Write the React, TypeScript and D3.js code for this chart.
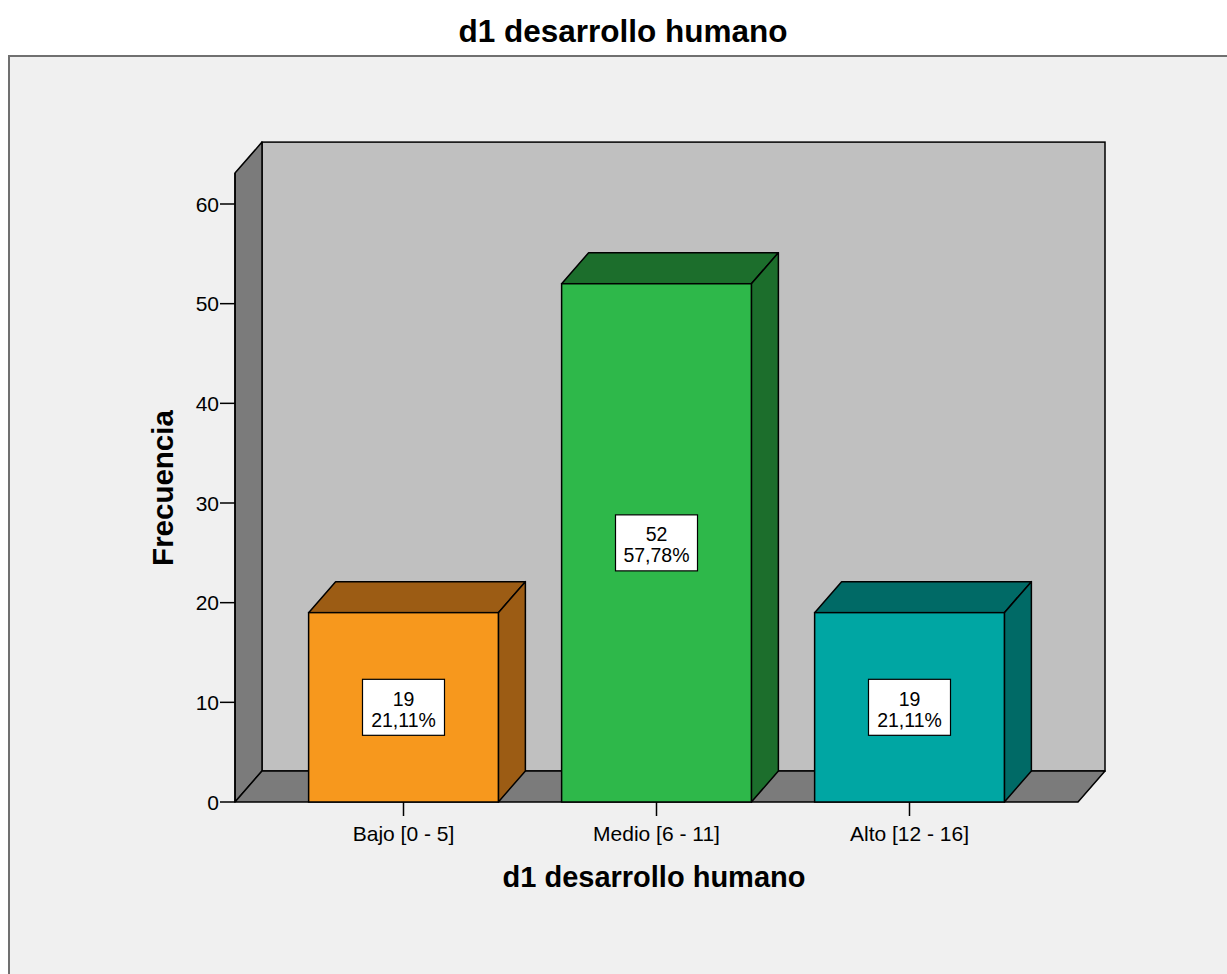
import React from "react";
import * as d3 from "d3";

const categories = ["Bajo [0 - 5]", "Medio [6 - 11]", "Alto [12 - 16]"];
const counts = [19, 52, 19];
const percents = ["21,11%", "57,78%", "21,11%"];
const yTicks = [0, 10, 20, 30, 40, 50, 60];
const frontColors = ["#f7981d", "#2eb84a", "#00a6a3"];
const darkColors = ["#9c5c14", "#1c6e2c", "#006a66"];

const W = 1227;
const H = 974;
const DX = 27;
const DY = -31;
const X0 = 235;
const X1 = 1078;
const Y0 = 802;
const WALL_MAX = 63.1;

export default function App() {
  const y = d3.scaleLinear().domain([0, 60]).range([Y0, 204]);
  const x = d3.scalePoint<string>().domain(categories).range([X0, X1]).padding(0.666);
  const step = x.step();
  const bw = step * 0.75;
  const wallTop = y(WALL_MAX);
  const font = "Arial, 'Liberation Sans', sans-serif";
  const pts = (a: number[][]) => a.map((p) => p.join(",")).join(" ");

  return (
    <svg width={W} height={H} style={{ position: "absolute", left: 0, top: 0, background: "#ffffff" }} fontFamily={font}>
      <rect x={9} y={56} width={1400} height={1200} fill="#f0f0f0" stroke="#707070" strokeWidth={2} />
      <text x={623} y={42} textAnchor="middle" fontSize={31.5} fontWeight="bold" fill="#000">d1 desarrollo humano</text>

      {/* back wall */}
      <rect x={X0 + DX} y={wallTop + DY} width={X1 - X0} height={Y0 - wallTop} fill="#c0c0c0" stroke="#000" strokeWidth={1.5} />
      {/* left wall */}
      <polygon points={pts([[X0, Y0], [X0, wallTop], [X0 + DX, wallTop + DY], [X0 + DX, Y0 + DY]])} fill="#7b7b7b" stroke="#000" strokeWidth={1.5} strokeLinejoin="round" />
      {/* floor */}
      <polygon points={pts([[X0, Y0], [X0 + DX, Y0 + DY], [X1 + DX, Y0 + DY], [X1, Y0]])} fill="#7b7b7b" stroke="#000" strokeWidth={1.5} strokeLinejoin="round" />

      {/* y axis */}
      <line x1={X0} x2={X0} y1={wallTop} y2={Y0} stroke="#000" strokeWidth={1.5} />
      {yTicks.map((t) => (
        <g key={t}>
          <line x1={X0 - 15} x2={X0} y1={y(t)} y2={y(t)} stroke="#000" strokeWidth={1.5} />
          <text x={X0 - 16} y={y(t)} dy="0.36em" textAnchor="end" fontSize={21} fill="#000">{t}</text>
        </g>
      ))}

      {categories.map((c, i) => {
        const cx = x(c)!;
        const l = cx - bw / 2;
        const r = cx + bw / 2;
        const top = y(counts[i]);
        const my = y(counts[i] / 2);
        return (
          <g key={c}>
            <polygon points={pts([[l, top], [l + DX, top + DY], [r + DX, top + DY], [r, top]])} fill={darkColors[i]} stroke="#000" strokeWidth={1.5} strokeLinejoin="round" />
            <polygon points={pts([[r, top], [r + DX, top + DY], [r + DX, Y0 + DY], [r, Y0]])} fill={darkColors[i]} stroke="#000" strokeWidth={1.5} strokeLinejoin="round" />
            <rect x={l} y={top} width={bw} height={Y0 - top} fill={frontColors[i]} stroke="#000" strokeWidth={1.5} />
            <rect x={cx - 41} y={my - 28} width={82} height={56} fill="#fff" stroke="#000" strokeWidth={1.2} />
            <text x={cx} y={my - 1.5} textAnchor="middle" fontSize={19.5} fill="#000">{counts[i]}</text>
            <text x={cx} y={my + 19.5} textAnchor="middle" fontSize={19.5} fill="#000">{percents[i]}</text>
            <line x1={cx} x2={cx} y1={Y0} y2={Y0 + 14} stroke="#000" strokeWidth={1.5} />
            <text x={cx} y={841} textAnchor="middle" fontSize={21} fill="#000">{c}</text>
          </g>
        );
      })}

      <text x={654} y={887} textAnchor="middle" fontSize={29} fontWeight="bold" fill="#000">d1 desarrollo humano</text>
      <text transform={`translate(173,488) rotate(-90)`} textAnchor="middle" fontSize={29.5} fontWeight="bold" fill="#000">Frecuencia</text>
    </svg>
  );
}
